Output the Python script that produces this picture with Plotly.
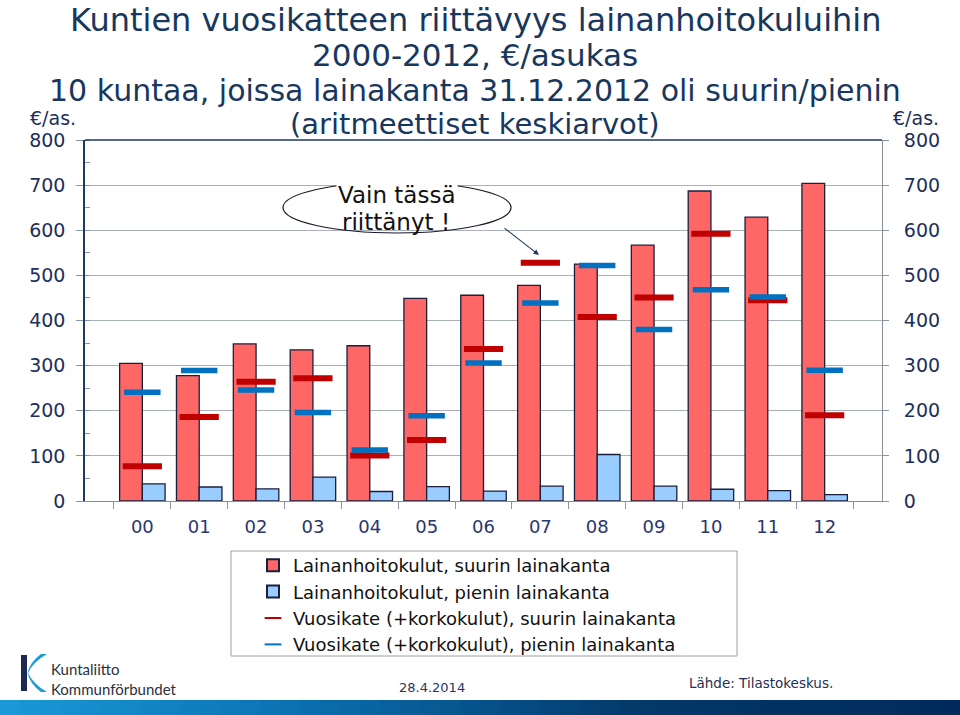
import plotly.graph_objects as go

# ---------------- data ----------------
years = ["00", "01", "02", "03", "04", "05", "06", "07", "08", "09", "10", "11", "12"]
lainanhoito_suurin = [305, 278, 348, 335, 344, 449, 456, 478, 525, 567, 687, 629, 704]
lainanhoito_pienin = [38, 31, 27, 53, 21, 32, 22, 33, 103, 33, 26, 23, 14]
vuosikate_suurin = [77, 186, 264, 272, 101, 135, 337, 528, 408, 451, 592, 445, 190]
vuosikate_pienin = [241, 289, 246, 196, 113, 189, 306, 439, 522, 380, 468, 452, 290]
y_ticks = [0, 100, 200, 300, 400, 500, 600, 700, 800]

title_lines = [
    "Kuntien vuosikatteen riittävyys lainanhoitokuluihin",
    "2000-2012, €/asukas",
    "10 kuntaa, joissa lainakanta 31.12.2012 oli suurin/pienin",
    "(aritmeettiset keskiarvot)",
]
legend_names = [
    "Lainanhoitokulut, suurin lainakanta",
    "Lainanhoitokulut, pienin lainakanta",
    "Vuosikate (+korkokulut), suurin lainakanta",
    "Vuosikate (+korkokulut), pienin lainakanta",
]

# ---------------- layout geometry (pixels) ----------------
W, H = 960, 715
L, R, T, B = 85, 882, 140, 501


def px(x):
    return (x - L) / (R - L)


def py(y):
    return (B - y) / (B - T)


NAVY = "#1c2f5a"
FONT = "DejaVu Sans"

fig = go.Figure()

fig.add_trace(go.Bar(
    x=years, y=lainanhoito_suurin, name=legend_names[0],
    marker=dict(color="#FF6666", line=dict(color="#1a1f3c", width=1.3)),
))
fig.add_trace(go.Bar(
    x=years, y=lainanhoito_pienin, name=legend_names[1],
    marker=dict(color="#99CCFF", line=dict(color="#1a1f3c", width=1.3)),
))
fig.add_trace(go.Scatter(
    x=years, y=vuosikate_suurin, name=legend_names[2], mode="markers", yaxis="y2",
    marker=dict(symbol="line-ew", size=28, line=dict(color="#C00000", width=6)),
))
fig.add_trace(go.Scatter(
    x=years, y=vuosikate_pienin, name=legend_names[3], mode="markers", yaxis="y2",
    marker=dict(symbol="line-ew", size=26, line=dict(color="#0070C0", width=5.5)),
))

tickfont = dict(family=FONT, size=19, color=NAVY)

fig.update_layout(
    width=W, height=H,
    margin=dict(l=L, r=W - R, t=T, b=H - B, autoexpand=False),
    paper_bgcolor="white", plot_bgcolor="white",
    barmode="group", bargap=0.2, bargroupgap=0,
    showlegend=True,
    legend=dict(
        x=px(253), y=py(547), xanchor="left", yanchor="top",
        font=dict(family=FONT, size=18, color="#111111"),
        bgcolor="rgba(0,0,0,0)", borderwidth=0, traceorder="normal",
        itemsizing="constant",
    ),
    xaxis=dict(
        type="category", tickson="boundaries", ticks="outside", ticklen=7,
        tickcolor="#8a96a8", showline=True, linecolor="#7f8c9c", linewidth=1,
        showgrid=False, tickfont=dict(family=FONT, size=18, color="#2a3570"),
        ticklabelstandoff=9,
    ),
    yaxis=dict(
        range=[0, 800], tickvals=y_ticks, showgrid=True, gridcolor="#a9b0b8",
        gridwidth=1, zeroline=False, showline=True, linecolor="#1F3864",
        linewidth=1.5, ticks="outside", ticklen=7, tickcolor="#8a96a8",
        tickfont=tickfont, ticklabelstandoff=7,
        minor=dict(dtick=50, ticks="inside", ticklen=5, tickcolor="#8a96a8", showgrid=False),
    ),
    yaxis2=dict(
        range=[0, 800], tickvals=y_ticks, overlaying="y", side="right",
        showgrid=False, zeroline=False, showline=True, linecolor="#8a8f98",
        linewidth=1, ticks="outside", ticklen=6, tickcolor="#8a96a8",
        tickfont=tickfont, ticklabelstandoff=11,
    ),
)

shapes = []
# top frame line
shapes.append(dict(type="line", xref="paper", yref="paper", x0=0, x1=1, y0=1, y1=1,
                   line=dict(color="#1F3864", width=1.5)))
# ellipse
shapes.append(dict(type="circle", xref="paper", yref="paper",
                   x0=px(283), x1=px(511), y0=py(233), y1=py(182),
                   line=dict(color="#1a1a2a", width=1.2)))
# legend box
shapes.append(dict(type="rect", xref="paper", yref="paper",
                   x0=px(231), x1=px(737), y0=py(656), y1=py(551),
                   line=dict(color="#a0a0a0", width=1), fillcolor="rgba(0,0,0,0)", layer="below"))

# footer gradient bar
def lerp(c1, c2, t):
    return tuple(int(round(a + (b - a) * t)) for a, b in zip(c1, c2))

stops = [(0, (26, 154, 216)), (300, (10, 112, 176)), (640, (3, 56, 106)), (960, (0, 42, 92))]
n = 48
for i in range(n):
    x0 = i * W / n
    x1 = (i + 1) * W / n
    xm = (x0 + x1) / 2
    for j in range(len(stops) - 1):
        if stops[j][0] <= xm <= stops[j + 1][0]:
            t = (xm - stops[j][0]) / (stops[j + 1][0] - stops[j][0])
            c = lerp(stops[j][1], stops[j + 1][1], t)
            break
    shapes.append(dict(type="rect", xref="paper", yref="paper",
                       x0=px(x0), x1=px(x1 + 0.5), y0=py(715), y1=py(700),
                       line=dict(width=0), fillcolor="rgb(%d,%d,%d)" % c))

# logo: navy bar and blue swoosh
shapes.append(dict(type="rect", xref="paper", yref="paper",
                   x0=px(21), x1=px(27), y0=py(691), y1=py(655),
                   line=dict(width=0), fillcolor="#1b2a55"))


def pth(points):
    s = ""
    for cmd, pts in points:
        s += cmd + " " + " ".join("%.5f,%.5f" % (px(a), py(b)) for a, b in pts) + " "
    return s + "Z"


swoosh = pth([
    ("M", [(47, 654)]),
    ("Q", [(33, 662), (28, 673)]),
    ("Q", [(33, 684), (47, 692)]),
    ("L", [(41, 692)]),
    ("Q", [(30, 684), (27.5, 673)]),
    ("Q", [(30, 662), (41, 654)]),
])
shapes.append(dict(type="path", xref="paper", yref="paper", path=swoosh,
                   line=dict(width=0), fillcolor="#1e9ad6"))
fig.update_layout(shapes=shapes)

ann = []
title_y = [20, 55, 90, 124]
title_sizes = [32, 31, 30, 29]
for txt, yy, fs in zip(title_lines, title_y, title_sizes):
    ann.append(dict(text=txt, x=px(475), y=py(yy), xref="paper", yref="paper",
                    xanchor="center", yanchor="middle", showarrow=False,
                    font=dict(family=FONT, size=fs, color="#17375E")))
# axis unit labels
ann.append(dict(text="€/as.", x=px(28), y=py(118), xref="paper", yref="paper",
                xanchor="left", yanchor="middle", showarrow=False,
                font=dict(family=FONT, size=19, color=NAVY)))
ann.append(dict(text="€/as.", x=px(891), y=py(118), xref="paper", yref="paper",
                xanchor="left", yanchor="middle", showarrow=False,
                font=dict(family=FONT, size=19, color=NAVY)))
# callout
ann.append(dict(text="Vain tässä", x=px(397), y=py(195), xref="paper", yref="paper",
                xanchor="center", yanchor="middle", showarrow=False, bgcolor="white",
                font=dict(family=FONT, size=23, color="#111111")))
ann.append(dict(text="riittänyt !", x=px(396), y=py(222), xref="paper", yref="paper",
                xanchor="center", yanchor="middle", showarrow=False,
                font=dict(family=FONT, size=23, color="#111111")))
ann.append(dict(text="", x=px(539), y=py(255), xref="paper", yref="paper",
                ax=503 - 539, ay=227 - 255, axref="pixel", ayref="pixel",
                showarrow=True, arrowhead=2, arrowsize=1, arrowwidth=1.1,
                arrowcolor="#1F3864"))
# footer texts
ann.append(dict(text="28.4.2014", x=px(397), y=py(687), xref="paper", yref="paper",
                xanchor="left", yanchor="middle", showarrow=False,
                font=dict(family=FONT, size=13, color="#1f3864")))
ann.append(dict(text="Lähde: Tilastokeskus.", x=px(687), y=py(683), xref="paper", yref="paper",
                xanchor="left", yanchor="middle", showarrow=False,
                font=dict(family=FONT, size=13.5, color="#1f3050")))
ann.append(dict(text="Kuntaliitto<br>Kommunförbundet", x=px(49), y=py(679), xref="paper", yref="paper",
                xanchor="left", yanchor="middle", align="left", showarrow=False,
                font=dict(family="Lato", size=15, color="#2a3040")))
fig.update_layout(annotations=ann)

fig.write_html("out.html", config={"displayModeBar": False},
               post_script="document.body.style.margin='0';")
